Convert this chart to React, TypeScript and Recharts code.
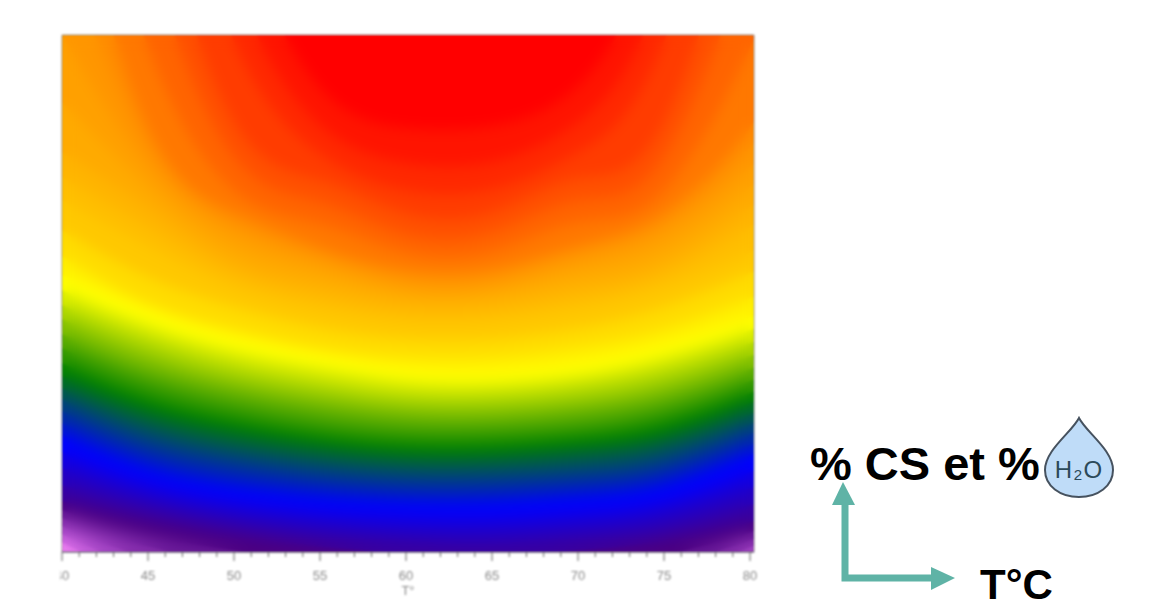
import { Area, ComposedChart, ReferenceArea, XAxis, YAxis } from "recharts";

// temperature columns the contours were read at (the picture runs a little past 80)
const temperatures = [40, 45, 50, 55, 60, 65, 70, 75, 80, 81];
const tickValues = [
  40, 41, 42, 43, 44, 45, 46, 47, 48, 49, 50, 51, 52, 53, 54, 55, 56, 57, 58, 59, 60,
  61, 62, 63, 64, 65, 66, 67, 68, 69, 70, 71, 72, 73, 74, 75, 76, 77, 78, 79, 80,
];
const labelledTicks = [40, 45, 50, 55, 60, 65, 70, 75, 80];

// height of each contour above the bottom of the plot, one value per temperature
const redCore = [1800, 1800, 1800, 1800, 1800, 1800, 1800, 1800, 1800, 1800];
const red1 = [1550, 1000, 640, 464, 424, 426, 466, 640, 1000, 1110];
const red2 = [1400, 900, 570, 427, 389, 390, 430, 570, 900, 1000];
const red3 = [1250, 800, 510, 398, 362, 363, 400, 510, 800, 890];
const red4 = [1100, 690, 430, 372, 339, 340, 374, 430, 690, 770];
const orange1 = [950, 600, 395, 350, 318, 320, 352, 395, 600, 670];
const orange2 = [800, 505, 362, 328, 300, 301, 330, 362, 505, 565];
const orange3 = [700, 425, 340, 305, 283, 284, 307, 340, 425, 480];
const orange4 = [600, 405, 330, 298, 275, 276, 300, 330, 405, 445];
const orange5 = [517, 385, 320, 290, 268, 269, 291, 320, 385, 412];
const amber1 = [450, 365, 305, 280, 260, 261, 281, 305, 365, 382];
const amber2 = [400, 345, 290, 267, 252, 253, 268, 290, 345, 356];
const amber3 = [375, 325, 278, 255, 241, 242, 256, 278, 325, 335];
const amber4 = [352, 305, 265, 243, 231, 232, 244, 265, 300, 308];
const amber5 = [322, 275, 245, 224, 213, 213, 224, 245, 279, 286];
const amber6 = [296, 249, 223, 204, 195, 195, 205, 223, 254, 260];
const yellow = [277, 242, 215, 197, 183, 181, 190, 208, 235, 241];
const lime1 = [262, 227, 201, 184, 171, 169, 177, 195, 222, 228];
const lime2 = [247, 213, 187, 170, 158, 157, 165, 182, 209, 215];
const lime3 = [233, 198, 173, 157, 146, 145, 152, 168, 196, 201];
const lime4 = [218, 183, 160, 144, 134, 133, 140, 155, 183, 189];
const lime5 = [204, 169, 146, 130, 121, 121, 127, 142, 171, 176];
const green = [189, 154, 132, 117, 109, 109, 115, 129, 159, 165];
const teal1 = [176, 142, 121, 107, 99, 99, 105, 118, 149, 155];
const teal2 = [164, 130, 109, 96, 89, 89, 95, 108, 138, 143];
const teal3 = [153, 118, 98, 86, 79, 79, 84, 97, 128, 133];
const teal4 = [141, 106, 87, 75, 69, 69, 74, 86, 118, 123];
const teal5 = [129, 94, 75, 65, 59, 59, 64, 76, 107, 112];
const blue = [117, 82, 64, 54, 49, 49, 54, 65, 97, 102];
const navy1 = [100, 70, 52, 42, 37, 36, 41, 52, 80, 85];
const navy2 = [84, 57, 40, 30, 24, 23, 28, 39, 64, 69];
const navy3 = [67, 45, 29, 18, 12, 10, 15, 25, 47, 51];
const indigo = [51, 32, 17, 6, -1, -2, 2, 12, 30, 34];
const purple1 = [42, 18, 2, -10, -20, -20, -15, -3, 20, 25];
const purple2 = [34, 6, -12, -25, -35, -35, -30, -15, 12, 17];
const purple3 = [26, -6, -25, -40, -50, -50, -45, -28, 5, 9];
const pink1 = [18, -18, -40, -55, -65, -65, -60, -40, -5, 0];
const pink2 = [10, -30, -55, -70, -80, -80, -75, -55, -20, -13];

// top band first, lower bands are painted over it
const bands: [string, number[], string][] = [
  ["redCore", redCore, "#ff0000"],
  ["red1", red1, "#ff1400"],
  ["red2", red2, "#ff2800"],
  ["red3", red3, "#ff3c00"],
  ["red4", red4, "#ff5000"],
  ["orange1", orange1, "#ff6400"],
  ["orange2", orange2, "#ff7800"],
  ["orange3", orange3, "#ff8c00"],
  ["orange4", orange4, "#ff9600"],
  ["orange5", orange5, "#ffa000"],
  ["amber1", amber1, "#ffaa00"],
  ["amber2", amber2, "#ffb400"],
  ["amber3", amber3, "#ffbe00"],
  ["amber4", amber4, "#ffc800"],
  ["amber5", amber5, "#ffdc00"],
  ["amber6", amber6, "#fff000"],
  ["yellow", yellow, "#ffff00"],
  ["lime1", lime1, "#d5ea00"],
  ["lime2", lime2, "#aad500"],
  ["lime3", lime3, "#80bf00"],
  ["lime4", lime4, "#55aa00"],
  ["lime5", lime5, "#2b9500"],
  ["green", green, "#008000"],
  ["teal1", teal1, "#006a2a"],
  ["teal2", teal2, "#005555"],
  ["teal3", teal3, "#004080"],
  ["teal4", teal4, "#002aaa"],
  ["teal5", teal5, "#0015d5"],
  ["blue", blue, "#0000ff"],
  ["navy1", navy1, "#1300df"],
  ["navy2", navy2, "#2500c0"],
  ["navy3", navy3, "#3800a1"],
  ["indigo", indigo, "#4b0082"],
  ["purple1", purple1, "#6a1a99"],
  ["purple2", purple2, "#8a30b0"],
  ["purple3", purple3, "#a848c8"],
  ["pink1", pink1, "#c860dd"],
  ["pink2", pink2, "#f080f4"],
];

const chartData = temperatures.map((t, i) => {
  const row: Record<string, number> = { t };
  bands.forEach(([key, values]) => { row[key] = values[i]; });
  return row;
});

const xDomain = [40, 80.23];
const yDomain = [0, 517];

function AxisTick({ x, y, payload }: any) {
  const major = labelledTicks.includes(payload.value);
  return (
    <g>
      <line x1={x} x2={x} y1={y} y2={y + (major ? 9 : 5)} stroke="#666" strokeWidth={1} />
      {major && (
        <text x={x} y={y + 28} textAnchor="middle" fontSize={13} fill="#8a8a8a" fontFamily="Liberation Sans">
          {payload.value}
        </text>
      )}
    </g>
  );
}

function bandAreas() {
  return bands.map(([key, , color]) => (
    <Area
      key={key}
      dataKey={key}
      type="natural"
      stroke="none"
      fill={color}
      fillOpacity={1}
      dot={false}
      activeDot={false}
      isAnimationActive={false}
    />
  ));
}

function Annotations() {
  const bold = { fontFamily: "Liberation Sans", fontWeight: 700, fill: "#000" };
  return (
    <svg width={1170} height={604} style={{ position: "absolute", left: 0, top: 0 }}>
      <text x={810} y={480} fontSize={47} {...bold}>% CS et %</text>
      <text x={980} y={599} fontSize={42} {...bold}>T°C</text>
      <path d="M1079 418 C1072 432 1045 450 1045 470 C1045 486 1060 497 1079 497 C1098 497 1113 486 1113 470 C1113 450 1086 432 1079 418 Z" fill="#bfdcf8" stroke="#46525f" strokeWidth={2} />
      <text x={1079} y={478} textAnchor="middle" fontSize={24} letterSpacing={1} fill="#2c4a5a" fontFamily="Liberation Sans">H₂O</text>
      <path d="M845 505 V578 H931" fill="none" stroke="#5fb3a6" strokeWidth={7} />
      <path d="M843 482 L855 505 L832 505 Z" fill="#5fb3a6" />
      <path d="M955 578 L931 567 L931 590 Z" fill="#5fb3a6" />
    </svg>
  );
}

export default function App() {
  return (
    <>
      <div style={{ position: "absolute", left: 60, top: 0, width: 710, height: 604, overflow: "hidden", filter: "blur(0.9px)" }}>
        <ComposedChart width={710} height={604} data={chartData} margin={{ top: 35, right: 16, bottom: 0, left: 2 }}>
          <XAxis
            dataKey="t"
            type="number"
            domain={xDomain}
            ticks={tickValues}
            interval={0}
            allowDataOverflow
            height={52}
            tickLine={false}
            tickSize={0}
            tickMargin={0}
            stroke="#5a4a6a"
            tick={<AxisTick />}
            label={{ value: "T°", position: "insideBottom", offset: 9, fontSize: 13, fill: "#8a8a8a", fontFamily: "Liberation Sans" }}
          />
          <YAxis hide type="number" domain={yDomain} allowDataOverflow />
          {bandAreas()}
          <ReferenceArea x1={40} x2={80.23} y1={0} y2={517} fill="none" stroke="#7a7a7a" strokeOpacity={0.8} />
        </ComposedChart>
      </div>
      {/* same bands again, softened, kept inside the plot so the steps between them melt */}
      <div style={{ position: "absolute", left: 63, top: 36, width: 690, height: 515, overflow: "hidden" }}>
        <div style={{ position: "absolute", left: -3, top: -36, filter: "blur(7px)" }}>
          <ComposedChart width={710} height={604} data={chartData} margin={{ top: 35, right: 16, bottom: 52, left: 2 }}>
            <XAxis hide dataKey="t" type="number" domain={xDomain} allowDataOverflow />
            <YAxis hide type="number" domain={yDomain} allowDataOverflow />
            {bandAreas()}
          </ComposedChart>
        </div>
      </div>
      <Annotations />
    </>
  );
}
